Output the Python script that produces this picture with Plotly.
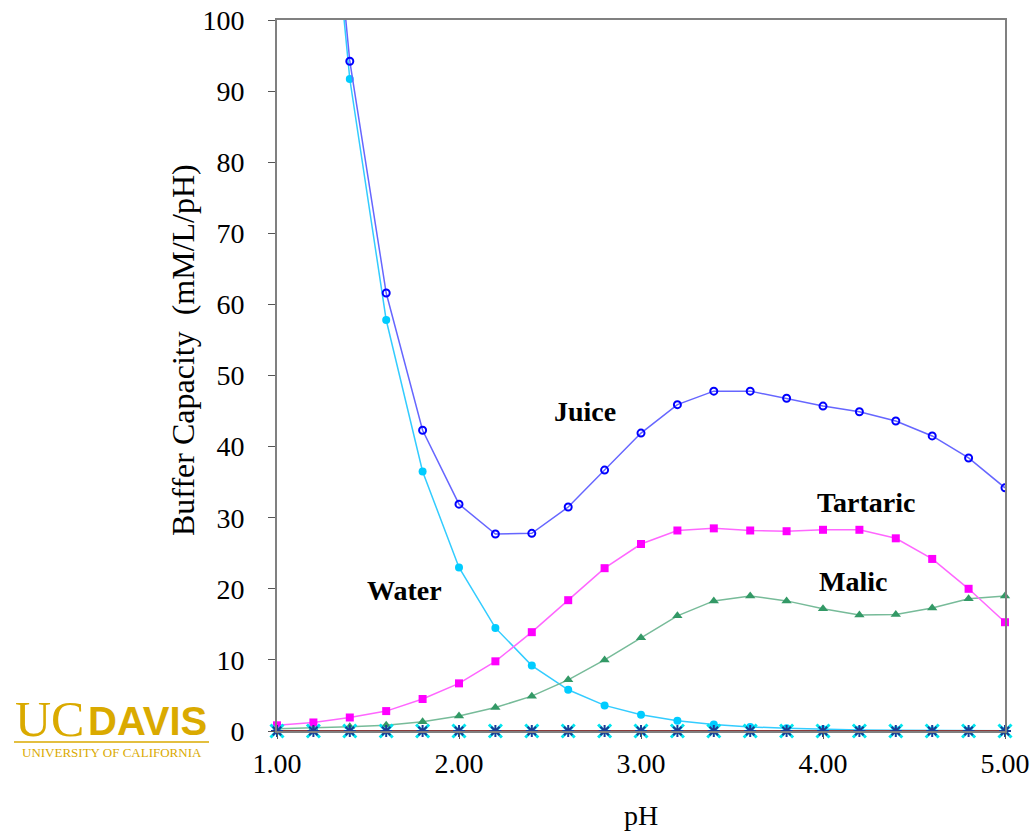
import plotly.graph_objects as go

ph = [1.0, 1.2, 1.4, 1.6, 1.8, 2.0, 2.2, 2.4, 2.6, 2.8, 3.0,
      3.2, 3.4, 3.6, 3.8, 4.0, 4.2, 4.4, 4.6, 4.8, 5.0]

juice = [231, 147, 94.2, 61.6, 42.3, 31.9, 27.7, 27.8, 31.5, 36.7, 41.9,
         45.9, 47.8, 47.8, 46.8, 45.7, 44.9, 43.6, 41.5, 38.4, 34.2]
water = [230, 145, 91.7, 57.8, 36.5, 23.0, 14.5, 9.2, 5.8, 3.6, 2.3,
         1.45, 0.9, 0.58, 0.37, 0.23, 0.15, 0.09, 0.06, 0.04, 0.02]
tartaric = [0.8, 1.2, 1.9, 2.8, 4.5, 6.7, 9.8, 13.9, 18.4, 22.9, 26.3,
            28.2, 28.5, 28.2, 28.1, 28.3, 28.3, 27.1, 24.2, 20.0, 15.3]
malic = [0.3, 0.4, 0.6, 0.8, 1.3, 2.1, 3.3, 4.9, 7.2, 10.0, 13.1,
         16.2, 18.3, 19.0, 18.3, 17.2, 16.3, 16.4, 17.3, 18.6, 19.0]
other = [0.0] * 21

x_ticks = [1, 2, 3, 4, 5]
x_ticktext = ["1.00", "2.00", "3.00", "4.00", "5.00"]
y_ticks = [0, 10, 20, 30, 40, 50, 60, 70, 80, 90, 100]

labels = [("Juice", 2.69, 45.0), ("Tartaric", 4.24, 32.1),
          ("Malic", 4.165, 21.0), ("Water", 1.70, 19.8)]

SERIF = "Liberation Serif"
SANS = "Liberation Sans"
GOLD = "#DAAA00"

fig = go.Figure()

fig.add_trace(go.Scatter(
    x=ph, y=water, mode="lines+markers", name="Water",
    line=dict(color="#33CCFF", width=1.5),
    marker=dict(symbol="circle", size=8, color="#00CCFF"),
))
fig.add_trace(go.Scatter(
    x=ph, y=juice, mode="lines+markers", name="Juice",
    line=dict(color="#6666FF", width=1.5),
    marker=dict(symbol="circle-open", size=7, color="#0000FF",
                line=dict(width=2, color="#0000FF")),
))
fig.add_trace(go.Scatter(
    x=ph, y=malic, mode="lines+markers", name="Malic",
    line=dict(color="#77BB99", width=1.5),
    marker=dict(symbol="triangle-up", size=9, color="#339966"),
    cliponaxis=False,
))
fig.add_trace(go.Scatter(
    x=ph, y=tartaric, mode="lines+markers", name="Tartaric",
    line=dict(color="#FF66FF", width=1.5),
    marker=dict(symbol="square", size=8, color="#FF00FF"),
    cliponaxis=False,
))
fig.add_trace(go.Scatter(
    x=ph, y=other, mode="lines+markers", name="Other",
    line=dict(color="#8B3A3A", width=2),
    marker=dict(symbol="x-thin-open", size=13, color="#00E5EE",
                line=dict(width=3, color="#00E5EE")),
    cliponaxis=False,
))
fig.add_trace(go.Scatter(
    x=ph, y=other, mode="markers", name="Other2",
    marker=dict(symbol="asterisk-open", size=10, color="#1F3A93",
                line=dict(width=2, color="#1F3A93")),
    cliponaxis=False,
))

for text, lx, ly in labels:
    fig.add_annotation(x=lx, y=ly, text="<b>" + text + "</b>", showarrow=False,
                       font=dict(family=SERIF, size=28, color="black"),
                       xanchor="center", yanchor="middle")

def px_x(p):
    return (p - 277) / 728.0

def px_y(p):
    return (731 - p) / 711.0

# y-axis title (as rotated annotation to match its placement)
fig.add_annotation(x=px_x(183), y=px_y(350), xref="paper", yref="paper",
                   text="Buffer Capacity  (mM/L/pH)", showarrow=False,
                   textangle=-90, xanchor="center", yanchor="middle",
                   font=dict(family=SERIF, size=32, color="black"))

# UC Davis logo
fig.add_annotation(x=px_x(13), y=px_y(719), xref="paper", yref="paper",
                   text="UC", showarrow=False, xanchor="left", yanchor="middle",
                   font=dict(family=SERIF, size=50, color=GOLD))
fig.add_annotation(x=px_x(86), y=px_y(721), xref="paper", yref="paper",
                   text="<b>DAVIS</b>", showarrow=False, xanchor="left", yanchor="middle",
                   font=dict(family=SANS, size=40, color=GOLD))
fig.add_shape(type="line", xref="paper", yref="paper",
              x0=px_x(14), x1=px_x(209), y0=px_y(742), y1=px_y(742),
              line=dict(color=GOLD, width=1.5))
fig.add_annotation(x=px_x(112), y=px_y(753), xref="paper", yref="paper",
                   text="UNIVERSITY OF CALIFORNIA", showarrow=False,
                   xanchor="center", yanchor="middle",
                   font=dict(family=SERIF, size=13, color=GOLD))

fig.update_layout(
    width=1034, height=833,
    margin=dict(l=277, r=29, t=20, b=102),
    paper_bgcolor="white", plot_bgcolor="white",
    showlegend=False,
    font=dict(family=SERIF, size=28, color="black"),
)
fig.update_xaxes(
    range=[1, 5], tickvals=x_ticks, ticktext=x_ticktext,
    showgrid=False, zeroline=False, automargin=False,
    showline=True, linecolor="#808080", linewidth=2, mirror=True,
    ticks="outside", ticklen=6, tickcolor="#555555", tickwidth=1,
    ticklabelstandoff=0,
    tickfont=dict(family=SERIF, size=28),
    title=dict(text="pH", font=dict(family=SERIF, size=28), standoff=28),
)
fig.update_yaxes(
    range=[0, 100], tickvals=y_ticks,
    showgrid=False, zeroline=False, automargin=False,
    showline=True, linecolor="#808080", linewidth=2, mirror=True,
    ticks="outside", ticklen=7, tickcolor="#555555", tickwidth=1,
    ticklabelstandoff=18,
    tickfont=dict(family=SERIF, size=28),
)

fig.write_html("out.html")
